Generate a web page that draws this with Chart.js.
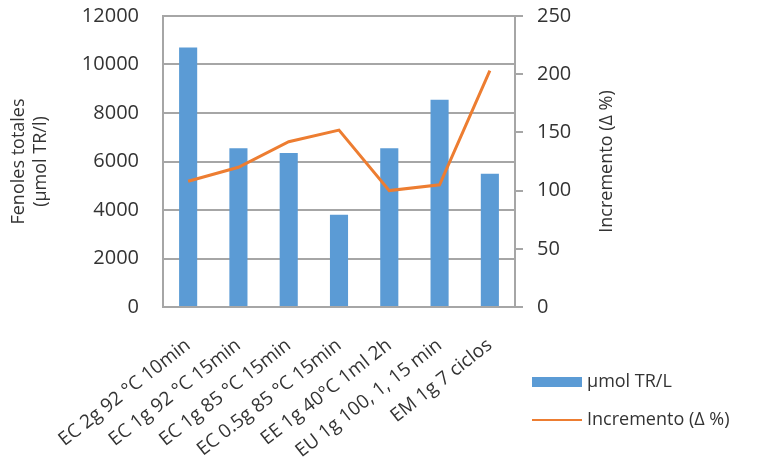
<!DOCTYPE html>
<html>
<head>
<meta charset="utf-8">
<script src="https://cdn.jsdelivr.net/npm/chart.js@4.4.1/dist/chart.umd.min.js"></script>
<style>
  html, body { margin: 0; padding: 0; background: #ffffff; }
  #wrap { width: 773px; height: 466px; position: relative; }
</style>
</head>
<body>
<div id="wrap"><canvas id="grafico"></canvas></div>
<script>
// Datos del gráfico
const categorias = [
    'EC 2g 92 °C 10min',
    'EC 1g 92 °C 15min',
    'EC 1g 85 °C 15min',
    'EC 0.5g 85 °C 15min',
    'EE 1g 40°C 1ml 2h',
    'EU 1g 100, 1, 15 min',
    'EM 1g 7 ciclos'
];
const fenoles = [10700, 6550, 6350, 3800, 6550, 8550, 5500];
const incremento = [108, 120, 142, 152, 100, 105, 203];

const COLOR_TEXTO = '#333333';
const COLOR_REJILLA = '#a6a6a6';
const FUENTE = '"Open Sans", "DejaVu Sans", sans-serif';

// Quitar el relleno automático de las escalas para fijar el área del gráfico
function sinRelleno(scale) {
    scale.paddingTop = 0;
    scale.paddingBottom = 0;
    scale.paddingLeft = 0;
    scale.paddingRight = 0;
}

// Título del eje derecho (se lee de abajo hacia arriba, como el izquierdo)
const tituloDerecho = {
    id: 'tituloDerecho',
    afterDraw(chart) {
        const ctx = chart.ctx;
        const area = chart.chartArea;
        ctx.save();
        ctx.translate(607, (area.top + area.bottom) / 2);
        ctx.rotate(-Math.PI / 2);
        ctx.fillStyle = COLOR_TEXTO;
        ctx.font = '18px ' + FUENTE;
        ctx.textAlign = 'center';
        ctx.textBaseline = 'middle';
        ctx.fillText('Incremento (Δ %)', 0, 0);
        ctx.restore();
    }
};

// Leyenda abajo a la derecha
const leyenda = {
    id: 'leyenda',
    afterDraw(chart) {
        const ctx = chart.ctx;
        ctx.save();
        ctx.font = '18px ' + FUENTE;
        ctx.textBaseline = 'middle';
        chart.data.datasets.forEach(function(ds, i) {
            const y = 382 + i * 38;
            if (ds.type === 'line') {
                ctx.strokeStyle = ds.borderColor;
                ctx.lineWidth = 2;
                ctx.beginPath();
                ctx.moveTo(532, y);
                ctx.lineTo(582, y);
                ctx.stroke();
            } else {
                ctx.fillStyle = ds.backgroundColor;
                ctx.fillRect(532, y - 5, 50, 10);
            }
            ctx.fillStyle = COLOR_TEXTO;
            ctx.fillText(ds.label, 587, y);
        });
        ctx.restore();
    }
};

Chart.defaults.font.family = FUENTE;
Chart.defaults.color = COLOR_TEXTO;

new Chart(document.getElementById('grafico'), {
    type: 'bar',
    data: {
        labels: categorias,
        datasets: [
            {
                type: 'bar',
                label: 'µmol TR/L',
                data: fenoles,
                backgroundColor: '#5b9bd5',
                barPercentage: 0.36,
                categoryPercentage: 1,
                yAxisID: 'y',
                order: 1
            },
            {
                type: 'line',
                label: 'Incremento (Δ %)',
                data: incremento,
                borderColor: '#ed7d31',
                borderWidth: 3,
                pointRadius: 0,
                tension: 0,
                yAxisID: 'y1',
                order: 0
            }
        ]
    },
    options: {
        responsive: true,
        maintainAspectRatio: false,
        animation: false,
        layout: { padding: { left: 8, top: 16, right: 150, bottom: 0 } },
        plugins: {
            legend: { display: false },
            tooltip: { enabled: false }
        },
        scales: {
            x: {
                grid: { display: true, drawOnChartArea: false, drawTicks: false },
                border: { display: true, color: COLOR_REJILLA, width: 2 },
                ticks: {
                    minRotation: 38,
                    maxRotation: 38,
                    autoSkip: false,
                    padding: 27,
                    font: { size: 19 }
                },
                afterFit(scale) {
                    scale.height = 466 - 307;
                    sinRelleno(scale);
                }
            },
            y: {
                position: 'left',
                min: 0,
                max: 12000,
                ticks: {
                    stepSize: 2000,
                    padding: 24,
                    font: { size: 20 },
                    callback: (v) => String(v)
                },
                grid: { color: COLOR_REJILLA, lineWidth: 2, drawTicks: false },
                border: { display: true, color: COLOR_REJILLA, width: 2 },
                title: {
                    display: true,
                    text: ['Fenoles totales', '(µmol TR/l)'],
                    font: { size: 18 },
                    padding: 0
                },
                afterFit(scale) {
                    scale.width = 163 - 8;
                    sinRelleno(scale);
                }
            },
            y1: {
                position: 'right',
                min: 0,
                max: 250,
                ticks: { stepSize: 50, padding: 14, font: { size: 20 } },
                grid: { drawOnChartArea: false, drawTicks: true, tickLength: 8, color: COLOR_REJILLA, lineWidth: 2 },
                border: { display: true, color: COLOR_REJILLA, width: 2 },
                afterFit(scale) {
                    scale.width = 773 - 150 - 515;
                    sinRelleno(scale);
                }
            }
        }
    },
    plugins: [tituloDerecho, leyenda]
});
</script>
</body>
</html>
